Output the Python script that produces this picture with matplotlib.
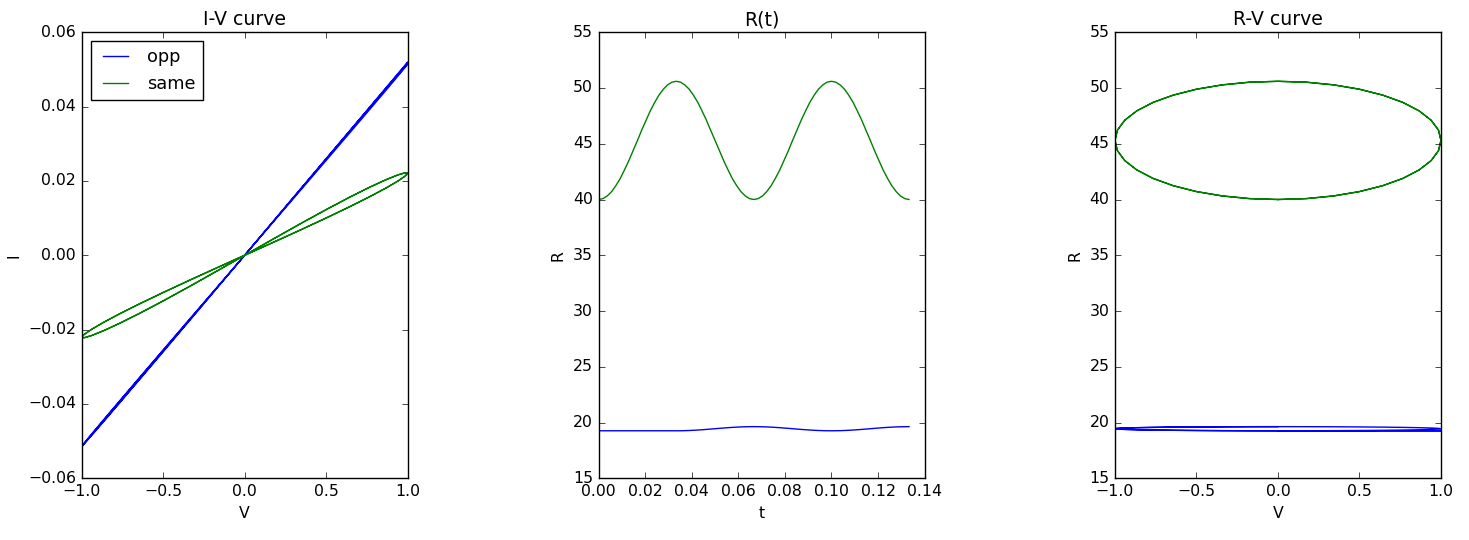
import numpy as np
import matplotlib
matplotlib.use('Agg')
import matplotlib.pyplot as plt

# time samples (s), two periods of the drive voltage
t = [0.0000, 0.0019, 0.0037, 0.0056, 0.0074, 0.0093, 0.0111, 0.0130, 0.0148, 0.0167,
     0.0185, 0.0204, 0.0222, 0.0241, 0.0259, 0.0278, 0.0296, 0.0315, 0.0333, 0.0352,
     0.0370, 0.0389, 0.0407, 0.0426, 0.0444, 0.0463, 0.0481, 0.0500, 0.0519, 0.0537,
     0.0556, 0.0574, 0.0593, 0.0611, 0.0630, 0.0648, 0.0667, 0.0685, 0.0704, 0.0722,
     0.0741, 0.0759, 0.0778, 0.0796, 0.0815, 0.0833, 0.0852, 0.0870, 0.0889, 0.0907,
     0.0926, 0.0944, 0.0963, 0.0981, 0.1000, 0.1019, 0.1037, 0.1056, 0.1074, 0.1093,
     0.1111, 0.1130, 0.1148, 0.1167, 0.1185, 0.1204, 0.1222, 0.1241, 0.1259, 0.1278,
     0.1296, 0.1315, 0.1333]

# applied voltage
V = [0.0, 0.174, 0.342, 0.5, 0.643, 0.766, 0.866, 0.940, 0.985, 1.0,
     0.985, 0.940, 0.866, 0.766, 0.643, 0.5, 0.342, 0.174, 0.0, -0.174,
     -0.342, -0.5, -0.643, -0.766, -0.866, -0.940, -0.985, -1.0, -0.985, -0.940,
     -0.866, -0.766, -0.643, -0.5, -0.342, -0.174, 0.0, 0.174, 0.342, 0.5,
     0.643, 0.766, 0.866, 0.940, 0.985, 1.0, 0.985, 0.940, 0.866, 0.766,
     0.643, 0.5, 0.342, 0.174, 0.0, -0.174, -0.342, -0.5, -0.643, -0.766,
     -0.866, -0.940, -0.985, -1.0, -0.985, -0.940, -0.866, -0.766, -0.643, -0.5,
     -0.342, -0.174, 0.0]

# resistance, "opp" orientation
R_opp = [19.26, 19.26, 19.26, 19.26, 19.26, 19.26, 19.26, 19.26, 19.26, 19.26,
         19.26, 19.26, 19.26, 19.26, 19.26, 19.26, 19.26, 19.26, 19.26, 19.263,
         19.271, 19.285, 19.303, 19.326, 19.353, 19.382, 19.413, 19.445, 19.477, 19.508,
         19.538, 19.564, 19.587, 19.605, 19.619, 19.627, 19.63, 19.627, 19.619, 19.605,
         19.587, 19.564, 19.538, 19.508, 19.477, 19.445, 19.413, 19.382, 19.353, 19.326,
         19.303, 19.285, 19.271, 19.263, 19.26, 19.263, 19.271, 19.285, 19.303, 19.326,
         19.353, 19.382, 19.413, 19.445, 19.477, 19.508, 19.538, 19.564, 19.587, 19.605,
         19.619, 19.627, 19.63]

# resistance, "same" orientation
R_same = [40.00, 40.08, 40.32, 40.71, 41.24, 41.89, 42.65, 43.49, 44.38, 45.30,
          46.22, 47.11, 47.95, 48.71, 49.36, 49.89, 50.28, 50.52, 50.60, 50.52,
          50.28, 49.89, 49.36, 48.71, 47.95, 47.11, 46.22, 45.30, 44.38, 43.49,
          42.65, 41.89, 41.24, 40.71, 40.32, 40.08, 40.00, 40.08, 40.32, 40.71,
          41.24, 41.89, 42.65, 43.49, 44.38, 45.30, 46.22, 47.11, 47.95, 48.71,
          49.36, 49.89, 50.28, 50.52, 50.60, 50.52, 50.28, 49.89, 49.36, 48.71,
          47.95, 47.11, 46.22, 45.30, 44.38, 43.49, 42.65, 41.89, 41.24, 40.71,
          40.32, 40.08, 40.00]

plt.style.use('classic')
plt.rcParams['font.size'] = 11.3

V_arr = np.array(V)
I_opp = V_arr / np.array(R_opp)
I_same = V_arr / np.array(R_same)

fig = plt.figure(figsize=(14.69, 5.4), dpi=100, facecolor='white')
w, h, b = 0.2219, 0.826, 0.1143

ax1 = fig.add_axes([0.0556, b, w, h])
ax1.plot(V, I_opp, 'b', label='opp')
ax1.plot(V, I_same, 'g', label='same')
ax1.set_title('I-V curve')
ax1.set_xlabel('V')
ax1.set_ylabel('I')
ax1.legend(loc='upper left', fontsize=12.8)

ax2 = fig.add_axes([0.4075, b, w, h])
ax2.plot(t, R_opp, 'b')
ax2.plot(t, R_same, 'g')
ax2.set_title('R(t)')
ax2.set_xlabel('t')
ax2.set_ylabel('R')
ax2.set_ylim(15, 55)

ax3 = fig.add_axes([0.759, b, w, h])
ax3.plot(V, R_opp, 'b')
ax3.plot(V, R_same, 'g')
ax3.set_title('R-V curve')
ax3.set_xlabel('V')
ax3.set_ylabel('R')
ax3.set_ylim(15, 55)

fig.savefig('out.png', dpi=100, facecolor='white')
